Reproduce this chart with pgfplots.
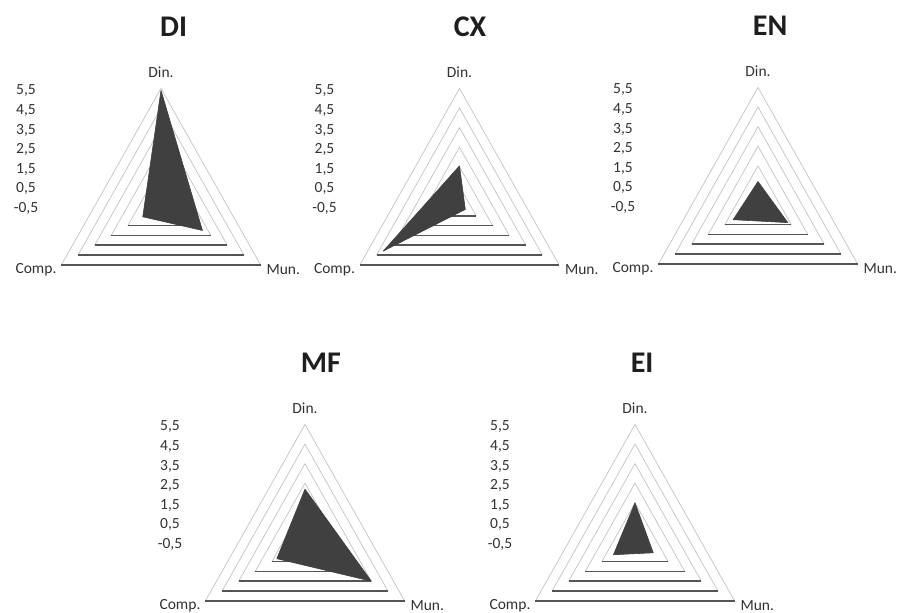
\documentclass[border=0pt]{standalone}
\usepackage{pgfplots}
\pgfplotsset{compat=1.18}
\usepackage{fontspec}
\setmainfont{Carlito}
\definecolor{serie}{RGB}{64,64,64}
\definecolor{gside}{RGB}{195,195,195}
\definecolor{gbase}{RGB}{85,85,85}
\definecolor{lbl}{RGB}{50,50,50}
\definecolor{ttl}{RGB}{30,30,30}
\pgfplotsset{
  radar/.style={
    x=19.15pt, y=19.6pt,
    xmin=-7.5, xmax=7.5, ymin=-7.5, ymax=7.5,
    hide axis, clip=false, anchor=origin,
  },
  gridside/.style={draw=gside, line width=0.7pt, no marks, data cs=polar, line join=miter},
  gridbase/.style={draw=gbase, line width=1.5pt, no marks, data cs=polar},
  series/.style={draw=serie, fill=serie, line width=0.6pt, no marks, line join=round},
}
\newcommand{\radargrid}{%
  \pgfplotsinvokeforeach{1,2,3,4,5,6}{%
    \addplot[gridside] coordinates {(210,##1) (90,##1) (330,##1)};
    \addplot[gridbase] coordinates {(210,##1) (330,##1)};
  }%
}
\newcommand{\radarlabels}[1]{%
  \node[font=\fontsize{15.5}{16}\selectfont, text=lbl] at (axis cs:-7.05,5.87) {5,5};
  \node[font=\fontsize{15.5}{16}\selectfont, text=lbl] at (axis cs:-7.05,4.87) {4,5};
  \node[font=\fontsize{15.5}{16}\selectfont, text=lbl] at (axis cs:-7.05,3.87) {3,5};
  \node[font=\fontsize{15.5}{16}\selectfont, text=lbl] at (axis cs:-7.05,2.87) {2,5};
  \node[font=\fontsize{15.5}{16}\selectfont, text=lbl] at (axis cs:-7.05,1.87) {1,5};
  \node[font=\fontsize{15.5}{16}\selectfont, text=lbl] at (axis cs:-7.05,0.87) {0,5};
  \node[font=\fontsize{15.5}{16}\selectfont, text=lbl] at (axis cs:-7.05,-0.13) {-0,5};
  \node[font=\fontsize{15.5}{16}\selectfont, text=lbl] at (axis cs:0,6.8) {Din.};
  \node[font=\fontsize{15.5}{16}\selectfont, text=lbl, anchor=east, inner sep=0pt] at (axis cs:-5.45,-3.25) {Comp.};
  \node[font=\fontsize{15.5}{16}\selectfont, text=lbl, anchor=west, inner sep=0pt] at (axis cs:5.5,-3.25) {Mun.};
  \node[font=\fontsize{30}{32}\selectfont\bfseries, text=ttl] at (axis cs:#1,9.15) {\csname radartitle\endcsname};
}
\begin{document}
\begin{tikzpicture}
\useasboundingbox (0,0) rectangle (898pt,-613pt);
% DI
\begin{axis}[radar, at={(161pt,-206pt)}]
\radargrid
\addplot[series] table[row sep=\\, x expr={(\thisrow{v}+0.5)*cos(\thisrow{a})}, y expr={(\thisrow{v}+0.5)*sin(\thisrow{a})}] {
a v \\ 90 5.4 \\ 330 2.0 \\ 210 0.6 \\ 90 5.4 \\
};
\def\radartitle{DI}
\radarlabels{0.66}
\end{axis}
% CX
\begin{axis}[radar, at={(459.5pt,-206pt)}]
\radargrid
\addplot[series] table[row sep=\\, x expr={(\thisrow{v}+0.5)*cos(\thisrow{a})}, y expr={(\thisrow{v}+0.5)*sin(\thisrow{a})}] {
a v \\ 90 1.55 \\ 330 -0.15 \\ 210 4.1 \\ 90 1.55 \\
};
\def\radartitle{CX}
\radarlabels{0.55}
\end{axis}
% EN
\begin{axis}[radar, at={(758pt,-205pt)}]
\radargrid
\addplot[series] table[row sep=\\, x expr={(\thisrow{v}+0.5)*cos(\thisrow{a})}, y expr={(\thisrow{v}+0.5)*sin(\thisrow{a})}] {
a v \\ 90 0.7 \\ 330 1.3 \\ 210 1.0 \\ 90 0.7 \\
};
\def\radartitle{EN}
\radarlabels{0.63}
\end{axis}
% MF
\begin{axis}[radar, at={(305pt,-542pt)}]
\radargrid
\addplot[series] table[row sep=\\, x expr={(\thisrow{v}+0.5)*cos(\thisrow{a})}, y expr={(\thisrow{v}+0.5)*sin(\thisrow{a})}] {
a v \\ 90 2.2 \\ 330 3.5 \\ 210 1.2 \\ 90 2.2 \\
};
\def\radartitle{MF}
\radarlabels{0.83}
\end{axis}
% EI
\begin{axis}[radar, at={(635pt,-542pt)}]
\radargrid
\addplot[series] table[row sep=\\, x expr={(\thisrow{v}+0.5)*cos(\thisrow{a})}, y expr={(\thisrow{v}+0.5)*sin(\thisrow{a})}] {
a v \\ 90 1.5 \\ 330 0.6 \\ 210 0.8 \\ 90 1.5 \\
};
\def\radartitle{EI}
\radarlabels{0.37}
\end{axis}
\end{tikzpicture}
\end{document}
